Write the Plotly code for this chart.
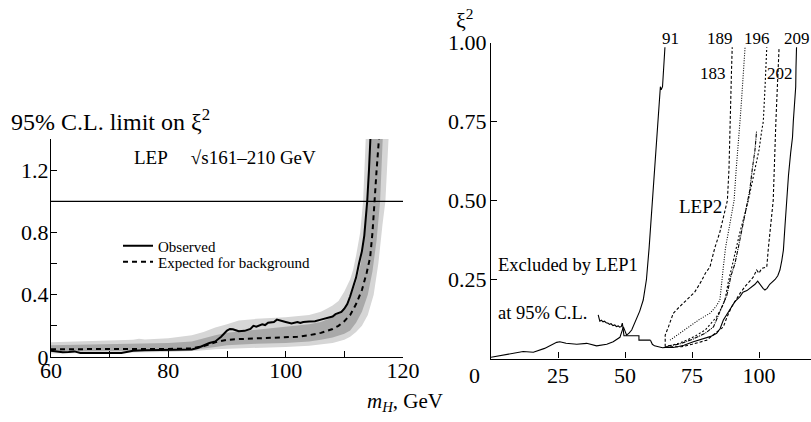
import plotly.graph_objects as go

# ---------------- Left panel: 95% C.L. limit on xi^2 vs m_H ----------------
obs_m = [60, 61, 62, 63, 64, 65, 66, 68, 70, 72, 73, 74, 76, 78, 80, 82, 84, 85, 86, 87, 88, 89,
         90, 90.5, 91, 92, 93, 94, 94.5, 95, 96, 96.5, 97, 98, 98.5, 99, 100, 101, 102, 102.5,
         103, 104, 105, 106, 107, 108, 108.5, 109, 109.5, 110, 110.5, 111, 111.5, 112, 112.5,
         113, 113.4, 113.9, 114.2, 114.5]
obs_v = [0.040, 0.035, 0.030, 0.032, 0.036, 0.026, 0.025, 0.025, 0.025, 0.026, 0.033, 0.040,
         0.043, 0.045, 0.045, 0.046, 0.048, 0.058, 0.075, 0.090, 0.100, 0.130, 0.170, 0.180,
         0.178, 0.165, 0.168, 0.180, 0.200, 0.195, 0.210, 0.205, 0.220, 0.225, 0.240, 0.236,
         0.225, 0.215, 0.225, 0.218, 0.225, 0.228, 0.230, 0.240, 0.250, 0.260, 0.275, 0.285,
         0.290, 0.310, 0.340, 0.390, 0.450, 0.510, 0.600, 0.680, 0.780, 1.000, 1.200, 1.450]

exp_m = [60, 65, 70, 75, 80, 84, 86, 88, 90, 92, 95, 98, 100, 102, 104, 106, 108, 109, 110,
         111, 112, 113, 113.8, 114.4, 114.8, 115.1, 115.5, 116.0]
exp_v = [0.050, 0.050, 0.050, 0.052, 0.052, 0.055, 0.070, 0.095, 0.110, 0.115, 0.120, 0.122,
         0.125, 0.130, 0.140, 0.155, 0.180, 0.200, 0.230, 0.270, 0.340, 0.430, 0.540, 0.640,
         0.800, 1.000, 1.200, 1.450]

# +-2 sigma band edges
hi2_m = [60, 65, 70, 74, 75, 76, 80, 84, 86, 88, 90, 92, 95, 100, 104, 106, 107, 108, 109,
         110, 111, 111.5, 112, 112.7, 113.2, 113.7]
hi2_v = [0.095, 0.100, 0.105, 0.110, 0.118, 0.113, 0.120, 0.140, 0.160, 0.190, 0.210, 0.235,
         0.245, 0.255, 0.270, 0.290, 0.310, 0.330, 0.360, 0.420, 0.500, 0.560, 0.650, 0.800,
         1.000, 1.450]
lo2_m = [60, 70, 80, 85, 88, 90, 95, 100, 104, 106, 108, 110, 111, 112, 113, 114, 115, 115.8,
         116.5, 117.0, 117.6]
lo2_v = [0.022, 0.028, 0.032, 0.040, 0.050, 0.055, 0.060, 0.065, 0.072, 0.080, 0.090, 0.110,
         0.130, 0.160, 0.200, 0.270, 0.400, 0.600, 0.850, 1.000, 1.450]

# +-1 sigma band edges
hi1_m = [60, 70, 80, 84, 86, 88, 90, 95, 100, 104, 106, 108, 109, 110, 111, 112, 112.8, 113.3,
         113.8, 114.0, 114.5]
hi1_v = [0.075, 0.082, 0.090, 0.100, 0.120, 0.140, 0.155, 0.175, 0.195, 0.210, 0.225, 0.255,
         0.280, 0.320, 0.380, 0.480, 0.600, 0.750, 0.950, 1.000, 1.450]
lo1_m = [60, 70, 80, 85, 88, 90, 95, 100, 104, 106, 108, 110, 111, 112, 113, 114, 114.8, 115.5,
         116.1, 116.6]
lo1_v = [0.035, 0.040, 0.042, 0.050, 0.065, 0.075, 0.085, 0.090, 0.100, 0.110, 0.125, 0.150,
         0.170, 0.220, 0.290, 0.400, 0.550, 0.750, 1.000, 1.450]

limit_level = 1.0
left_xticks = [60, 80, 100, 120]
left_yticks = [0, 0.4, 0.8, 1.2]
left_ytext = ["0", "0.4", "0.8", "1.2"]

# ---------------- Right panel: LEP1 and LEP2 exclusion curves ----------------
lep1_m = [0, 4, 8.3, 12, 15.8, 20, 24.5, 25.7, 28, 32, 35.7, 39.4, 43.2, 45.6, 48.1, 49.4,
          50.6, 51.5, 52.5, 54, 55.5, 56.8, 58, 59, 60.2, 61, 62, 62.5, 63.2, 63.5, 64, 64.9]
lep1_v = [0.004, 0.010, 0.018, 0.022, 0.020, 0.032, 0.051, 0.053, 0.048, 0.045, 0.048, 0.040,
          0.045, 0.053, 0.067, 0.100, 0.074, 0.080, 0.090, 0.120, 0.150, 0.185, 0.250, 0.350,
          0.500, 0.600, 0.700, 0.780, 0.860, 0.850, 0.860, 0.985]

step_m = [40.0, 40.3, 40.6, 41.2, 41.8, 42.3, 43.0, 43.6, 44.2, 44.8, 45.5, 46.2, 46.8, 47.5,
          48.0, 48.6, 49.0, 49.3, 49.6, 55.2, 55.2, 59.5]
step_v = [0.138, 0.125, 0.118, 0.121, 0.116, 0.118, 0.113, 0.112, 0.108, 0.110, 0.104, 0.106,
          0.101, 0.103, 0.099, 0.101, 0.112, 0.095, 0.072, 0.072, 0.058, 0.058]

s183_m = [65.0, 65.0, 66.2, 68.0, 70.5, 73.0, 76.0, 78.5, 80.0, 81.7, 83.5, 85.4, 86.8, 88.2,
          88.8, 89.2, 89.4, 89.7, 90.0]
s183_v = [0.037, 0.074, 0.100, 0.143, 0.165, 0.185, 0.210, 0.245, 0.270, 0.290, 0.350, 0.400,
          0.450, 0.500, 0.600, 0.700, 0.800, 0.900, 0.985]

s189_m = [66.8, 70.5, 75.5, 78.0, 81.7, 84.0, 85.4, 86.0, 86.7, 87.5, 88.6, 89.6, 90.7, 91.5,
          92.5, 92.9, 93.5, 94.0, 94.4, 94.8]
s189_v = [0.058, 0.080, 0.110, 0.125, 0.143, 0.165, 0.185, 0.240, 0.290, 0.350, 0.400, 0.450,
          0.500, 0.600, 0.690, 0.750, 0.820, 0.880, 0.930, 0.985]

s192_m = [66.0, 70.0, 75.0, 80.0, 83.0, 85.0, 86.5, 88.0, 89.5, 91.0, 92.5, 94.0, 95.5, 96.5,
          97.5, 98.5, 99.1]
s192_v = [0.040, 0.045, 0.060, 0.080, 0.100, 0.140, 0.170, 0.200, 0.260, 0.300, 0.360, 0.420,
          0.480, 0.530, 0.600, 0.660, 0.720]

s196_m = [68.0, 70.0, 73.0, 76.0, 79.9, 82.0, 84.2, 86.0, 87.3, 88.5, 89.8, 91.5, 92.9, 94.5,
          96.0, 97.5, 99.0, 100.0, 101.0, 101.6, 102.2, 102.9]
s196_v = [0.043, 0.048, 0.058, 0.070, 0.090, 0.110, 0.132, 0.160, 0.185, 0.240, 0.290, 0.350,
          0.400, 0.450, 0.500, 0.560, 0.620, 0.660, 0.720, 0.750, 0.850, 0.985]

s202_m = [65.0, 68.0, 71.0, 75.0, 78.0, 80.5, 83.0, 85.0, 86.7, 88.0, 89.8, 91.0, 92.9, 95.0,
          97.9, 99.1, 100.0, 101.0, 102.9, 103.5, 104.1, 104.8, 105.3, 105.7, 106.0, 106.3,
          106.8, 107.2, 107.5]
s202_v = [0.037, 0.036, 0.037, 0.045, 0.052, 0.058, 0.075, 0.088, 0.100, 0.130, 0.164, 0.180,
          0.206, 0.230, 0.258, 0.280, 0.270, 0.285, 0.290, 0.350, 0.400, 0.450, 0.500, 0.600,
          0.700, 0.750, 0.850, 0.920, 0.985]

s209_m = [59.5, 60.2, 61.0, 62.5, 64.0, 66.0, 68.0, 70.0, 72.0, 75.5, 78.0, 80.0, 82.0, 84.2,
          85.5, 86.7, 88.0, 89.8, 91.0, 92.9, 94.0, 95.5, 97.0, 98.5, 99.5, 100.5, 101.5, 102.2,
          103.0, 104.0, 104.7, 105.3, 106.0, 107.0, 107.8, 108.5, 109.1, 109.7, 110.3, 111.0,
          111.8, 112.5, 112.8, 113.2, 113.7, 113.8, 114.0]
s209_v = [0.058, 0.045, 0.040, 0.036, 0.034, 0.036, 0.035, 0.038, 0.042, 0.053, 0.060, 0.065,
          0.070, 0.080, 0.095, 0.122, 0.140, 0.164, 0.180, 0.196, 0.210, 0.215, 0.225, 0.235,
          0.245, 0.232, 0.222, 0.217, 0.222, 0.235, 0.240, 0.245, 0.250, 0.262, 0.280, 0.310,
          0.343, 0.420, 0.500, 0.580, 0.650, 0.700, 0.750, 0.800, 0.860, 0.920, 0.985]

right_xticks = [0, 25, 50, 75, 100]
right_xtext = ["0" + "\u00a0" * 6, "25", "50", "75", "100"]
right_yticks = [0.25, 0.5, 0.75, 1.0]
right_ytext = ["0.25", "0.50", "0.75", "1.00"]

# energy labels (sqrt(s) in GeV): text, m position, height as fraction of the xi^2 axis
energy_labels = [("91", 66.8, 1.014), ("189", 85.4, 1.014), ("196", 99.1, 1.014),
                 ("209", 114.0, 1.014), ("183", 82.8, 0.903), ("202", 107.8, 0.903)]

FONT = "Liberation Serif"
LIGHT = "#d6d6d6"
DARK = "#a9a9a9"

fig = go.Figure()


def band(m_hi, v_hi, m_lo, v_lo, color):
    xs = list(m_hi) + list(reversed(m_lo))
    ys = list(v_hi) + list(reversed(v_lo))
    return go.Scatter(x=xs, y=ys, fill="toself", fillcolor=color, mode="lines",
                      line=dict(width=0, color=color), hoverinfo="skip",
                      showlegend=False, xaxis="x", yaxis="y")


fig.add_trace(band(hi2_m, hi2_v, lo2_m, lo2_v, LIGHT))
fig.add_trace(band(hi1_m, hi1_v, lo1_m, lo1_v, DARK))
fig.add_trace(go.Scatter(x=[60, 120], y=[limit_level, limit_level], mode="lines",
                         line=dict(color="black", width=1.3), showlegend=False,
                         xaxis="x", yaxis="y"))
fig.add_trace(go.Scatter(x=obs_m, y=obs_v, mode="lines", name="Observed",
                         line=dict(color="black", width=2), xaxis="x", yaxis="y",
                         legend="legend"))
fig.add_trace(go.Scatter(x=exp_m, y=exp_v, mode="lines", name="Expected for background",
                         line=dict(color="black", width=2, dash="5px,4px"),
                         xaxis="x", yaxis="y", legend="legend2"))

right_curves = [
    (lep1_m, lep1_v, "solid"),
    (step_m, step_v, "solid"),
    (s183_m, s183_v, "3px,2px"),
    (s189_m, s189_v, "1px,1.5px"),
    (s192_m, s192_v, "4px,1px,1px,1px"),
    (s196_m, s196_v, "2px,2px"),
    (s202_m, s202_v, "3px,2px"),
    (s209_m, s209_v, "solid"),
]
for mx, vy, dash in right_curves:
    fig.add_trace(go.Scatter(x=mx, y=vy, mode="lines", showlegend=False,
                             line=dict(color="black", width=1.1, dash=dash),
                             xaxis="x2", yaxis="y2"))

axis_common = dict(showline=True, linecolor="black", linewidth=1.3, showgrid=False,
                   zeroline=False, ticks="inside", tickcolor="black", tickwidth=1.2,
                   ticklen=6, automargin=False,
                   tickfont=dict(family=FONT, size=22, color="black"))

legend_common = dict(xanchor="left", yanchor="middle", bgcolor="rgba(0,0,0,0)",
                     font=dict(family=FONT, size=15, color="black"), itemwidth=30,
                     tracegroupgap=0)

fig.update_layout(
    template="none",
    width=811, height=422,
    margin=dict(l=0, r=0, t=0, b=0, autoexpand=False),
    paper_bgcolor="white", plot_bgcolor="white",
    font=dict(family=FONT, color="black"),
    xaxis=dict(domain=[51 / 811, 403 / 811], range=[60, 120], tickvals=left_xticks,
               ticklabelstandoff=-7,
               minor=dict(dtick=10, tick0=60, ticks="inside", ticklen=6, tickcolor="black"),
               anchor="y", **axis_common),
    yaxis=dict(domain=[(422 - 357) / 422, (422 - 139) / 422], range=[0, 1.4],
               tickvals=left_yticks, ticktext=left_ytext, ticklabelstandoff=-3,
               minor=dict(dtick=0.2, tick0=0, ticks="inside", ticklen=6, tickcolor="black"),
               anchor="x", **axis_common),
    xaxis2=dict(domain=[491 / 811, 1.0], range=[0, 119.4], tickvals=right_xticks,
                ticktext=right_xtext, ticklabelstandoff=-3, anchor="y2", **axis_common),
    yaxis2=dict(domain=[(422 - 358.5) / 422, (422 - 42.5) / 422], range=[0, 1.0],
                tickvals=right_yticks, ticktext=right_ytext, ticklabelstandoff=-1,
                anchor="x2", **axis_common),
    legend=dict(x=118 / 811, y=(422 - 246) / 422, **legend_common),
    legend2=dict(x=118 / 811, y=(422 - 262) / 422, **legend_common),
    showlegend=True,
)

annots = [
    dict(text="95% C.L. limit on ξ<sup>2</sup>", x=9 / 811, y=(422 - 120) / 422,
         xref="paper", yref="paper", xanchor="left", yanchor="middle",
         font=dict(size=24)),
    dict(text="LEP     √s161–210 GeV", x=132 / 811, y=(422 - 157) / 422,
         xref="paper", yref="paper", xanchor="left", yanchor="middle",
         font=dict(size=19)),
    dict(text="<i>m</i><sub><i>H</i></sub>, GeV", x=405 / 811, y=(422 - 402) / 422,
         xref="paper", yref="paper", xanchor="center", yanchor="middle",
         font=dict(size=21)),
    dict(text="ξ<sup>2</sup>", x=465 / 811, y=(422 - 19) / 422,
         xref="paper", yref="paper", xanchor="center", yanchor="middle",
         font=dict(size=22)),
    dict(text="LEP2", x=78, y=0.48, xref="x2", yref="y2", xanchor="center",
         yanchor="middle", font=dict(size=19)),
    dict(text="Excluded by LEP1", x=2, y=0.296, xref="x2", yref="y2", xanchor="left",
         yanchor="middle", font=dict(size=18.5)),
    dict(text="at 95% C.L.", x=2, y=0.144, xref="x2", yref="y2", xanchor="left",
         yanchor="middle", font=dict(size=18.5)),
]
for txt, mx, vy in energy_labels:
    annots.append(dict(text=txt, x=mx, y=vy, xref="x2", yref="y2 domain", xanchor="center",
                       yanchor="middle", font=dict(size=17)))
fig.update_layout(annotations=[dict(showarrow=False, **a) for a in annots])

fig.write_html("out.html")
